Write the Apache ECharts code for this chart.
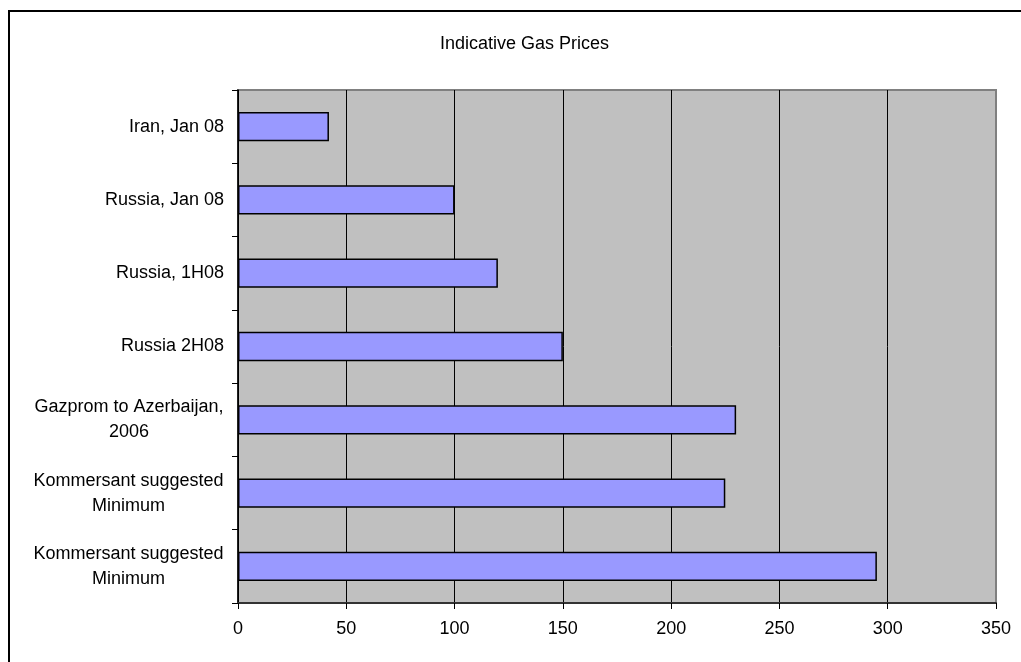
<!DOCTYPE html>
<html>
<head>
<meta charset="utf-8">
<script src="https://cdn.jsdelivr.net/npm/echarts@6/dist/echarts.min.js"></script>
<style>
html, body { margin: 0; padding: 0; background: #fff; }
#main { width: 1021px; height: 662px; }
</style>
</head>
<body>
<div id="main"></div>
<script>
var categories = ['Iran, Jan 08', 'Russia, Jan 08', 'Russia, 1H08', 'Russia 2H08',
    'Gazprom to Azerbaijan,\n2006', 'Kommersant suggested\nMinimum', 'Kommersant suggested\nMinimum'];
var prices = [42, 100, 120, 150, 230, 225, 295];
var tickMax = 350;
var tickStep = 50;

var fontFamily = '"Liberation Sans", Arial, sans-serif';

// multi-line labels: block right-aligned, lines centred inside it
var ctx = document.createElement('canvas').getContext('2d');
ctx.font = '18px ' + fontFamily;
var rich = {};
categories.forEach(function (c, i) {
    var lines = c.split('\n');
    if (lines.length < 2) return;
    var w = 0;
    lines.forEach(function (l) { w = Math.max(w, ctx.measureText(l).width); });
    rich['l' + i] = { width: Math.ceil(w), align: 'center', fontSize: 18, lineHeight: 25,
        color: '#000', fontFamily: fontFamily };
});

var myChart = echarts.init(document.getElementById('main'));
var option = {
    animation: false,
    backgroundColor: '#fff',
    title: {
        text: 'Indicative Gas Prices',
        left: 435,
        top: 30,
        textStyle: { fontSize: 18, fontWeight: 'normal', color: '#000', fontFamily: fontFamily }
    },
    graphic: [{
        type: 'rect',
        shape: { x: 9, y: 11, width: 1100, height: 700 },
        style: { fill: 'none', stroke: '#000', lineWidth: 2 },
        silent: true
    }],
    grid: {
        left: 238, top: 90, right: 25, bottom: 59,
        show: true,
        backgroundColor: '#C0C0C0',
        borderColor: '#808080',
        borderWidth: 2
    },
    xAxis: {
        type: 'value',
        min: 0,
        max: tickMax,
        interval: tickStep,
        axisLine: { show: true, lineStyle: { color: '#333', width: 2 } },
        axisTick: { show: true, length: 6, lineStyle: { color: '#000' } },
        axisLabel: { fontSize: 18, color: '#000', margin: 17, fontFamily: fontFamily },
        splitLine: { show: true, showMaxLine: false, lineStyle: { color: '#000', width: 1 } }
    },
    yAxis: {
        type: 'category',
        data: categories,
        inverse: true,
        axisLine: { show: true, lineStyle: { color: '#000', width: 1.5 } },
        axisTick: { show: true, length: 6, lineStyle: { color: '#000' } },
        axisLabel: {
            fontSize: 18, color: '#000', margin: 14, lineHeight: 25, fontFamily: fontFamily,
            formatter: function (v, i) {
                if (v.indexOf('\n') < 0) return v;
                return v.split('\n').map(function (l) { return '{l' + i + '|' + l + '}'; }).join('\n');
            },
            rich: rich
        },
        splitLine: { show: false }
    },
    series: [{
        type: 'bar',
        data: prices,
        barCategoryGap: '60%',
        itemStyle: { color: '#9999FF', borderColor: '#000', borderWidth: 1.5 }
    }]
};
myChart.setOption(option);
</script>
</body>
</html>
